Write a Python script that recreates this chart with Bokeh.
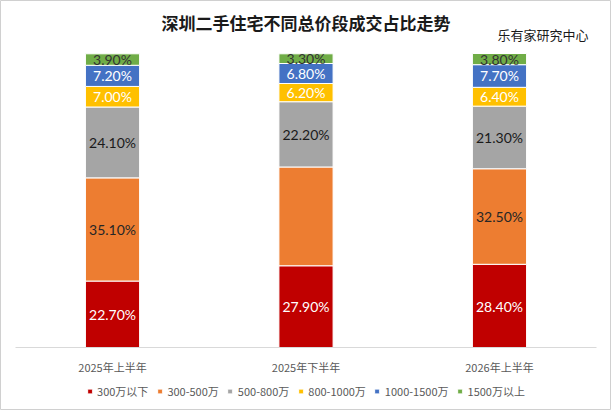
from bokeh.plotting import figure
from bokeh.models import ColumnDataSource, FactorRange, Range1d, Legend, LegendItem, Label
from bokeh.core.properties import value
from bokeh.embed import file_html
from bokeh.resources import INLINE

categories = ["2025年上半年", "2025年下半年", "2026年上半年"]
segments = ["300万以下", "300-500万", "500-800万", "800-1000万", "1000-1500万", "1500万以上"]
v_300_below = [22.7, 27.9, 28.4]
v_300_500 = [35.1, 33.6, 32.5]
v_500_800 = [24.1, 22.2, 21.3]
v_800_1000 = [7.0, 6.2, 6.4]
v_1000_1500 = [7.2, 6.8, 7.7]
v_1500_above = [3.9, 3.3, 3.8]
hidden_labels = [("2025年下半年", "300-500万")]
title_text = "深圳二手住宅不同总价段成交占比走势"
source_text = "乐有家研究中心"

colors = ["#C00000", "#ED7D31", "#A5A5A5", "#FFC000", "#4472C4", "#70AD47"]
label_colors = ["#ffffff", "#262626", "#1a1a1a", "#ffffff", "#ffffff", "#333333"]

series = [v_300_below, v_300_500, v_500_800, v_800_1000, v_1000_1500, v_1500_above]
data = {"cat": categories}
for s, vals in zip(segments, series):
    data[s] = vals
source = ColumnDataSource(data)

W, H = 611, 410
p = figure(x_range=FactorRange(*categories, range_padding=0.0526),
           y_range=Range1d(-21.33, 118.13),
           width=W, height=H, output_backend="svg", toolbar_location=None,
           min_border_left=0, min_border_right=0, min_border_top=0, min_border_bottom=0)
p.outline_line_color = "#d0d0d0"
p.outline_line_width = 1
p.grid.visible = False
p.yaxis.visible = False

renderers = p.vbar_stack(segments, x="cat", width=0.28, color=colors, source=source,
                         line_color="white", line_width=1)

lx, ly, lt, lc = [], [], [], []
for i, c in enumerate(categories):
    base = 0.0
    for j, s in enumerate(segments):
        v = series[j][i]
        if (c, s) not in hidden_labels:
            lx.append(c)
            ly.append(base + v / 2)
            lt.append(f"{v:.2f}%")
            lc.append(label_colors[j])
        base += v
lsrc = ColumnDataSource(dict(x=lx, y=ly, t=lt, c=lc))
p.text(x="x", y="y", text="t", text_color="c", source=lsrc, text_align="center",
       text_baseline="middle", text_font=value("Lato"), text_font_size="14px")

ax = p.xaxis[0]
ax.fixed_location = 0
ax.bounds = (0, 3)
ax.axis_line_color = "#d9d9d9"
ax.major_tick_line_color = None
ax.minor_tick_line_color = None
ax.major_label_text_font = "Noto Sans CJK SC"
ax.major_label_text_font_size = "11px"
ax.major_label_text_color = "#595959"
ax.major_label_standoff = 5

legend = Legend(items=[LegendItem(label=s, renderers=[r]) for s, r in zip(segments, renderers)],
                orientation="horizontal", location="bottom_center")
legend.label_text_font = "Noto Sans CJK SC"
legend.label_text_font_size = "11px"
legend.label_text_color = "#595959"
legend.glyph_width = 6
legend.glyph_height = 6
legend.label_height = 12
legend.spacing = 8
legend.label_standoff = 5
legend.padding = 2
legend.margin = 11
legend.border_line_color = None
legend.background_fill_alpha = 0
p.add_layout(legend, "center")

title_label = Label(x=1.5, y=110.48, text=title_text, text_align="center", text_baseline="middle",
                    text_font="Noto Sans CJK SC", text_font_size="17px", text_font_style="bold",
                    text_color="#1a1a1a")
p.add_layout(title_label)

src_label = Label(x=2.49, y=106.7, text=source_text, text_baseline="middle",
                  text_font="Noto Sans CJK SC", text_font_size="13px", text_color="#1a1a1a")
p.add_layout(src_label)

open("out.html", "w").write(file_html(p, INLINE))
